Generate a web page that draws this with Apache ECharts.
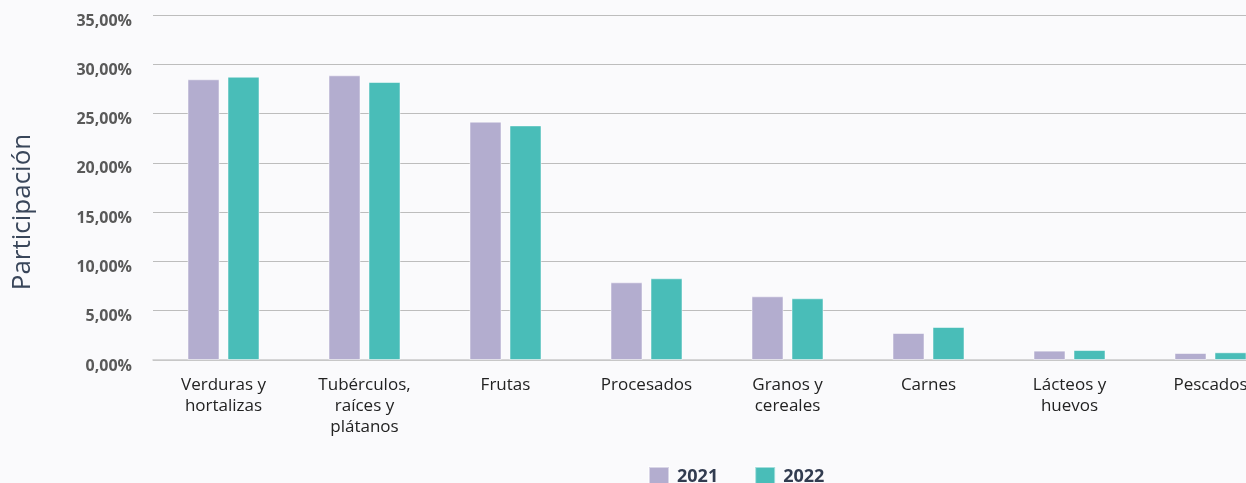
<!DOCTYPE html>
<html>
<head>
<meta charset="utf-8">
<script src="https://cdn.jsdelivr.net/npm/echarts@6/dist/echarts.min.js"></script>
<style>
  html, body { margin: 0; padding: 0; background: #FAFAFC; overflow: hidden; width: 1246px; height: 483px; }
  #chart { width: 1281px; height: 483px; }
</style>
</head>
<body>
<div id="chart"></div>
<script>
// Participación por grupo de alimentos (%)
const categories = [
  'Verduras y\nhortalizas',
  'Tubérculos,\nraíces y\nplátanos',
  'Frutas',
  'Procesados',
  'Granos y\ncereales',
  'Carnes',
  'Lácteos y\nhuevos',
  'Pescados'
];
const values2021 = [28.48, 28.88, 24.18, 7.88, 6.46, 2.74, 0.95, 0.71];
const values2022 = [28.74, 28.20, 23.80, 8.29, 6.26, 3.35, 1.01, 0.78];
const yMin = 0;
const yMax = 35;
const yStep = 5;

const fmtPct = v => v.toFixed(2).replace('.', ',') + '%';

const chart = echarts.init(document.getElementById('chart'), null, { renderer: 'canvas' });

chart.setOption({
  backgroundColor: '#FAFAFC',
  animation: false,
  // the plot runs a little past the right edge of the visible page
  grid: { left: 153, right: 0, top: 15, bottom: 123, containLabel: false },
  graphic: [{
    type: 'text',
    x: 23,
    y: 212,
    rotation: Math.PI / 2,
    style: {
      text: 'Participación',
      fontFamily: 'Open Sans',
      fontSize: 26,
      fill: '#39465A',
      align: 'center',
      verticalAlign: 'middle'
    }
  }],
  legend: {
    left: 648,
    top: 466,
    padding: 0,
    itemWidth: 20,
    itemHeight: 20,
    itemGap: 36,
    icon: 'rect',
    textStyle: {
      fontFamily: 'Open Sans',
      fontWeight: 'bold',
      fontSize: 18,
      color: '#323C50',
      padding: [8, 0, 0, 3]
    },
    data: ['2021', '2022']
  },
  xAxis: {
    type: 'category',
    data: categories,
    axisLine: { show: true, lineStyle: { color: '#CACACA', width: 1.5 } },
    axisTick: { show: false },
    axisLabel: {
      interval: 0,
      margin: 15,
      fontFamily: 'Open Sans',
      fontSize: 17,
      lineHeight: 21,
      color: '#222222',
      align: 'center'
    }
  },
  yAxis: {
    type: 'value',
    min: yMin,
    max: yMax,
    interval: yStep,
    axisLine: { show: false },
    axisTick: { show: false },
    splitLine: { lineStyle: { color: '#BDBDBD', width: 1 } },
    axisLabel: {
      margin: 21,
      fontFamily: 'Open Sans',
      fontWeight: 'bold',
      fontSize: 16,
      lineHeight: 16,
      color: '#595959',
      verticalAlign: 'top',
      padding: [-2, 0, 0, 0],
      formatter: fmtPct
    }
  },
  series: [
    {
      name: '2021',
      type: 'bar',
      data: values2021,
      barWidth: 32,
      barGap: '25%',
      itemStyle: { color: '#B3ADCF', borderColor: 'rgba(255,255,255,0.5)', borderWidth: 1 }
    },
    {
      name: '2022',
      type: 'bar',
      data: values2022,
      barWidth: 32,
      barGap: '25%',
      itemStyle: { color: '#49BDB8', borderColor: 'rgba(255,255,255,0.5)', borderWidth: 1 }
    }
  ]
});
</script>
</body>
</html>
